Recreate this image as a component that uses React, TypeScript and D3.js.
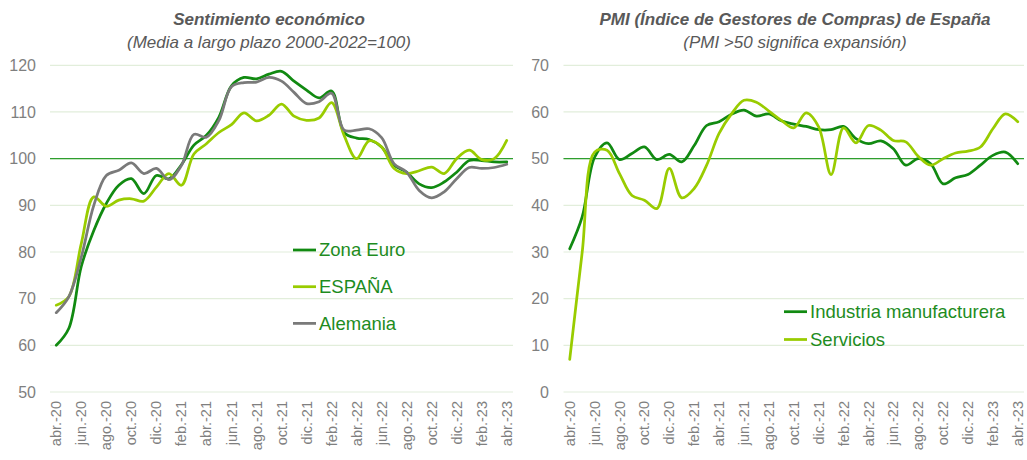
import React from "react";
import * as d3 from "d3";

const months: string[] = [
  "abr.-20","may.-20","jun.-20","jul.-20","ago.-20","sep.-20","oct.-20","nov.-20","dic.-20",
  "ene.-21","feb.-21","mar.-21","abr.-21","may.-21","jun.-21","jul.-21","ago.-21","sep.-21","oct.-21","nov.-21","dic.-21",
  "ene.-22","feb.-22","mar.-22","abr.-22","may.-22","jun.-22","jul.-22","ago.-22","sep.-22","oct.-22","nov.-22","dic.-22",
  "ene.-23","feb.-23","mar.-23","abr.-23",
];
const tickLabels: string[] = [
  "abr.-20","jun.-20","ago.-20","oct.-20","dic.-20","feb.-21","abr.-21","jun.-21","ago.-21","oct.-21",
  "dic.-21","feb.-22","abr.-22","jun.-22","ago.-22","oct.-22","dic.-22","feb.-23","abr.-23",
];

const zonaEuro: number[] = [
  60, 63.6, 76.9, 84.6, 90.4, 94.3, 95.7, 92.5, 96.4, 95.7, 98.7, 102.9, 105, 108.9, 115.6, 117.4, 117.1, 118.1, 118.7,
  116.6, 114.7, 113, 114.5, 105.6, 104.4, 104.1, 102.5, 98.6, 97.1, 94.6, 93.8, 95, 97.1, 99.6, 99.6, 99.3, 99.3,
];
const espana: number[] = [
  68.6, 70.4, 81.8, 91.8, 89.8, 91.1, 91.4, 90.9, 93.9, 96.8, 94.3, 101, 103.2, 105.6, 107.3, 109.8, 108.1, 109.3, 111.7,
  109.1, 108.2, 108.7, 112, 105, 100, 103.8, 102.5, 97.9, 96.8, 97.4, 98.2, 96.8, 100, 101.8, 99.8, 100, 103.9,
];
const alemania: number[] = [
  67, 70.4, 78.9, 90, 96.4, 97.5, 99.1, 96.8, 97.9, 95.5, 98.5, 105.2, 104.6, 108.2, 115.4, 116.3, 116.4, 117.4, 116.6,
  114.2, 111.8, 112.2, 114, 106.1, 106.1, 106.4, 104.5, 98.9, 97.1, 93.2, 91.6, 92.9, 95.7, 98.1, 97.9, 98.1, 98.8,
];
const industria: number[] = [
  30.7, 37.5, 50.3, 53.4, 49.8, 51.1, 52.5, 49.8, 50.9, 49.3, 52.8, 57.1, 57.9, 59.5, 60.4, 59.1, 59.6, 58.1, 57.4,
  56.9, 56.2, 56.2, 56.9, 54.3, 53.2, 53.8, 52.1, 48.6, 50, 48.9, 44.6, 45.9, 46.6, 48.6, 50.7, 51.4, 48.9,
];
const servicios: number[] = [
  7, 29.9, 51.4, 51.8, 46.8, 42.1, 41.1, 39.3, 47.9, 41.6, 43.6, 48.6, 55.4, 59.6, 62.5, 62.1, 60.2, 58.2, 56.6,
  59.8, 56.8, 46.6, 56.6, 53.4, 57.1, 56.1, 53.9, 53.6, 50.5, 48.6, 50, 51.2, 51.6, 52.5, 56.4, 59.6, 57.9,
];

const leftTicks: number[] = [50, 60, 70, 80, 90, 100, 110, 120];
const rightTicks: number[] = [0, 10, 20, 30, 40, 50, 60, 70];

const DARK = "#118a11";
const LIME = "#99cc00";
const GRAY = "#7a7a7a";
const TEXTGRAY = "#7f7f7f";
const TITLEGRAY = "#595959";
const LEGENDTEXT = "#1e8c1e";
const FONT = "'Liberation Sans', Arial, sans-serif";

type Series = { name: string; values: number[]; color: string };

function Panel(props: {
  x0: number; x1: number; domain: [number, number]; ticks: number[]; refValue: number;
  series: Series[]; labelRight: number; title: string; subtitle: string; titleX: number;
  legendX: number; legendY: number; legendStep: number;
}) {
  const { x0, x1, domain, ticks, refValue, series, labelRight, title, subtitle, titleX, legendX, legendY, legendStep } = props;
  const x = d3.scalePoint<string>().domain(months).range([x0, x1]).padding(0.5);
  const y = d3.scaleLinear().domain(domain).range([392, 65.3]);
  const line = d3
    .line<number>()
    .x((_, i) => x(months[i]) as number)
    .y((d) => y(d))
    .curve(d3.curveCatmullRom.alpha(0.5));
  return (
    <g>
      <text x={titleX} y={25} textAnchor="middle" fontFamily={FONT} fontSize={17} fontWeight="bold" fontStyle="italic" fill={TITLEGRAY}>
        {title}
      </text>
      <text x={titleX} y={48} textAnchor="middle" fontFamily={FONT} fontSize={17} fontStyle="italic" fill={TITLEGRAY}>
        {subtitle}
      </text>
      {ticks.map((t) => (
        <g key={t}>
          <line x1={x0} x2={x1} y1={y(t)} y2={y(t)} stroke="#e2eedb" strokeWidth={1.2} />
          <text x={labelRight} y={y(t)} dy="0.35em" textAnchor="end" fontFamily={FONT} fontSize={16} fill={TEXTGRAY}>
            {t}
          </text>
        </g>
      ))}
      <line x1={x0} x2={x1} y1={y(refValue)} y2={y(refValue)} stroke="#2e9e2e" strokeWidth={1.3} />
      {tickLabels.map((m) => (
        <text
          key={m}
          transform={`translate(${x(m)},401) rotate(-90)`}
          dy="0.35em"
          textAnchor="end"
          fontFamily={FONT}
          fontSize={14.5}
          fill={TEXTGRAY}
        >
          {m}
        </text>
      ))}
      {series.map((s) => (
        <path key={s.name} d={line(s.values) || ""} fill="none" stroke={s.color} strokeWidth={2.75} strokeLinejoin="round" strokeLinecap="round" />
      ))}
      {series.map((s, i) => (
        <g key={"lg" + s.name} transform={`translate(${legendX},${legendY + i * legendStep})`}>
          <line x1={0} x2={23} y1={0} y2={0} stroke={s.color} strokeWidth={2.75} />
          <text x={26} y={0} dy="0.35em" fontFamily={FONT} fontSize={18.5} fill={LEGENDTEXT}>
            {s.name}
          </text>
        </g>
      ))}
    </g>
  );
}

export default function App() {
  return (
    <svg width={1027} height={460} style={{ position: "absolute", left: 0, top: 0, background: "#fff" }}>
      <rect width={1027} height={460} fill="#fff" />
      <Panel
        x0={50} x1={513} domain={[50, 120]} ticks={leftTicks} refValue={100}
        series={[
          { name: "Zona Euro", values: zonaEuro, color: DARK },
          { name: "ESPAÑA", values: espana, color: LIME },
          { name: "Alemania", values: alemania, color: GRAY },
        ]}
        labelRight={36} title="Sentimiento económico" subtitle="(Media a largo plazo 2000-2022=100)" titleX={269}
        legendX={293} legendY={250} legendStep={36.7}
      />
      <Panel
        x0={563.5} x1={1024} domain={[0, 70]} ticks={rightTicks} refValue={50}
        series={[
          { name: "Industria manufacturera", values: industria, color: DARK },
          { name: "Servicios", values: servicios, color: LIME },
        ]}
        labelRight={549} title="PMI (Índice de Gestores de Compras) de España" subtitle="(PMI >50 significa expansión)" titleX={795}
        legendX={784} legendY={311.7} legendStep={27.8}
      />
    </svg>
  );
}
